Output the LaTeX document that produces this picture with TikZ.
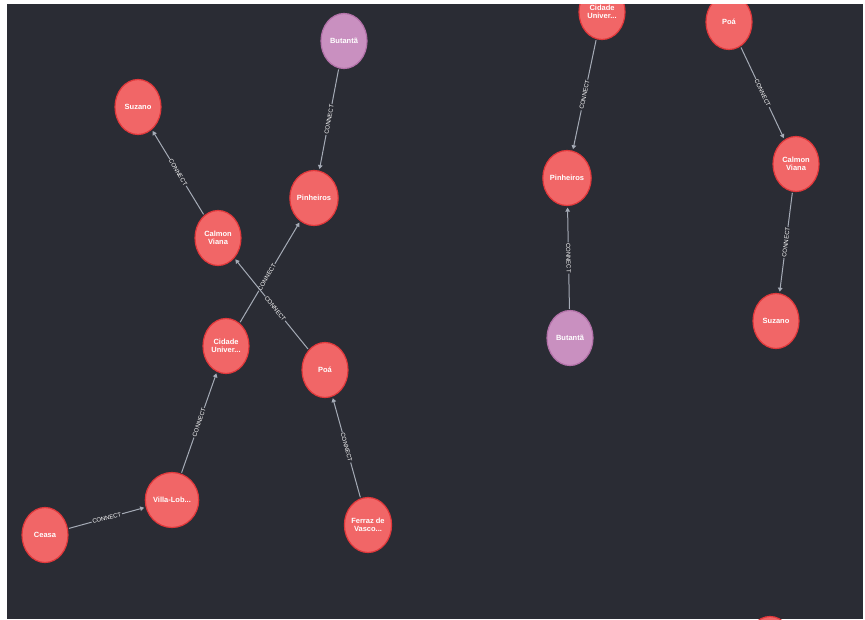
\documentclass[tikz,border=0pt]{standalone}
\usepackage{fontspec}
\setmainfont{Liberation Sans}
\usetikzlibrary{shapes.geometric,arrows.meta}
\definecolor{bg}{HTML}{2A2C34}
\definecolor{nodered}{HTML}{F16667}
\definecolor{redborder}{HTML}{E0383B}
\definecolor{nodepink}{HTML}{C990C0}
\definecolor{pinkborder}{HTML}{B271A8}
\definecolor{edgegrey}{HTML}{A5ABB6}
\begin{document}
\begin{tikzpicture}[x=1pt,y=-1pt,
  station/.style={ellipse, draw=redborder, fill=nodered, line width=1.2pt,
    minimum width=46pt, minimum height=55pt, inner sep=0pt, text=white,
    font=\fontsize{7.5}{8.5}\selectfont\bfseries, align=center},
  pinkstation/.style={station, draw=pinkborder, fill=nodepink},
  rel/.style={draw=edgegrey, line width=1pt, -{Triangle[length=4pt,width=4.5pt]}, shorten >=1.5pt, shorten <=1pt},
  rellabel/.style={midway, sloped, fill=bg, inner sep=0.8pt, text=white,
    font=\fontsize{6}{6}\selectfont}
]
\useasboundingbox (0,0) rectangle (865,619);
\fill[white] (0,0) rectangle (865,619);
\fill[bg] (7,4) rectangle (863,619);
\begin{scope}
\clip (7,4) rectangle (863,619);
% left graph
\node[pinkstation] (butL) at (344,41) {Butantã};
\node[station] (suzL) at (138,107) {Suzano};
\node[station] (pinL) at (314,198) {Pinheiros};
\node[station] (calL) at (218,238) {Calmon\\Viana};
\node[station] (cidL) at (226,346) {Cidade\\Univer...};
\node[station] (poaL) at (325,370) {Poá};
\node[station] (vilL) at (172,500) {Villa-Lob...};
\node[station] (ceaL) at (45,535) {Ceasa};
\node[station] (ferL) at (368,525) {Ferraz de\\Vasco...};
% right graph
\node[station] (cidR) at (602,12) {Cidade\\Univer...};
\node[station] (poaR) at (729,22) {Poá};
\node[station] (pinR) at (567,178) {Pinheiros};
\node[station] (calR) at (796,164) {Calmon\\Viana};
\node[pinkstation] (butR) at (570,338) {Butantã};
\node[station] (suzR) at (776,321) {Suzano};
\node[station] (edgeR) at (770,644) {};
% relations
\draw[rel] (butL) -- node[rellabel]{CONNECT} (pinL);
\draw[rel] (calL) -- node[rellabel]{CONNECT} (suzL);
\draw[rel] (cidL) -- node[rellabel, pos=0.45]{CONNECT} (pinL);
\draw[rel] (poaL) -- node[rellabel, pos=0.45]{CONNECT} (calL);
\draw[rel] (vilL) -- node[rellabel]{CONNECT} (cidL);
\draw[rel] (ceaL) -- node[rellabel]{CONNECT} (vilL);
\draw[rel] (ferL) -- node[rellabel]{CONNECT} (poaL);
\draw[rel] (cidR) -- node[rellabel]{CONNECT} (pinR);
\draw[rel] (butR) -- node[rellabel]{CONNECT} (pinR);
\draw[rel] (poaR) -- node[rellabel]{CONNECT} (calR);
\draw[rel] (calR) -- node[rellabel]{CONNECT} (suzR);
\end{scope}
\end{tikzpicture}
\end{document}
